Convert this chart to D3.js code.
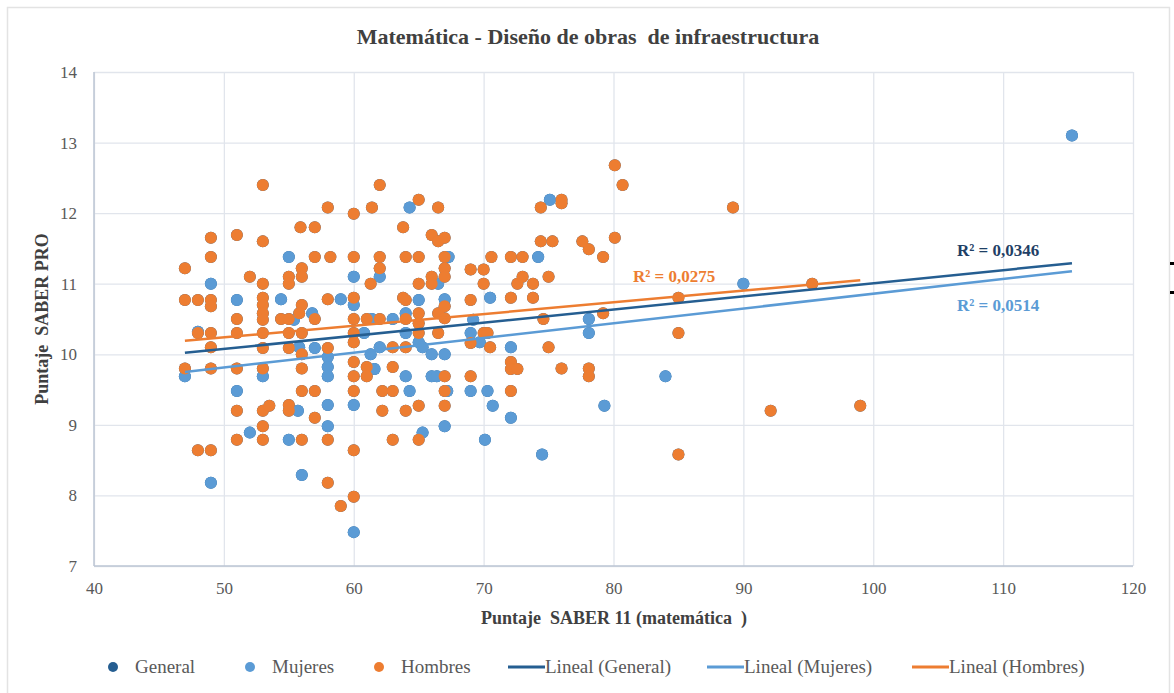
<!DOCTYPE html>
<html lang="es">
<meta charset="utf-8">
<head>
    <title>Matemática - Diseño de obras de infraestructura</title>
    <script src="https://cdn.jsdelivr.net/npm/d3@7/dist/d3.min.js"></script>
    <style>
        body {
            margin: 0;
            background: #fff;
            font-family: "Liberation Serif", "Times New Roman", serif;
        }
        .grid line { stroke: #e1e5ec; stroke-width: 1.3px; }
        .tick text { fill: #595959; font-size: 17px; }
    </style>
</head>
<body>
<script>
    // Mujeres: [Puntaje SABER 11, Puntaje SABER PRO]
    const mujeres = [
        [47, 9.69], [48, 10.32], [49, 11.0], [49, 8.18], [51, 10.77], [51, 9.48], [52, 8.89],
        [53, 9.69], [54.4, 10.78], [55, 11.38], [55.4, 10.49], [55, 8.79], [55.7, 9.2],
        [55.8, 10.1], [56, 8.29], [56.8, 10.58], [57, 10.09], [58, 9.96], [58, 9.82],
        [58, 9.69], [58, 9.28], [58, 8.98], [59, 10.78], [60, 11.1], [60, 10.7], [60.8, 10.3],
        [60, 9.28], [60, 7.48], [61.3, 10.0], [61.6, 9.79], [61.4, 10.5], [62, 11.1], [62, 10.1],
        [63, 10.5], [64, 10.58], [64, 10.3], [64, 9.69], [64.3, 12.08], [64.3, 9.48], [65, 10.77],
        [65, 10.17], [65.3, 10.1], [65.3, 8.89], [66, 10.0], [66, 9.69], [66.4, 9.69], [66.5, 11.0],
        [67.3, 11.38], [67, 10.78], [67, 10.0], [67, 8.98], [67.2, 9.48], [69.2, 10.49], [69, 10.3],
        [69, 9.48], [69.7, 10.17], [70.5, 10.8], [70.3, 9.48], [70.7, 9.27], [70.1, 8.79],
        [72.1, 10.1], [72.1, 9.1], [74.2, 11.38], [74.5, 8.58], [75.1, 12.19], [78.1, 10.5],
        [78.1, 10.3], [79.3, 9.27], [84, 9.69], [90, 11.0], [115.3, 13.1]
    ];

    // Hombres: [Puntaje SABER 11, Puntaje SABER PRO]
    const hombres = [
        [47, 11.22], [47, 10.77], [47, 9.8], [48, 10.77], [48, 10.3], [48, 8.64],
        [49, 11.65], [49, 11.38], [49, 10.77], [49, 10.68], [49, 10.3], [49, 10.1], [49, 9.8], [49, 8.64],
        [51, 11.69], [51, 10.5], [51, 10.3], [51, 9.8], [51, 9.2], [51, 8.79], [52, 11.1],
        [53, 12.4], [53, 11.6], [53, 11.0], [53, 10.8], [53, 10.7], [53, 10.58], [53, 10.49],
        [53, 10.3], [53, 10.09], [53, 9.8], [53, 9.2], [53, 8.98], [53, 8.79], [53.5, 9.27],
        [54.4, 10.5], [55, 11.1], [55, 11.0], [55, 10.5], [55, 10.3], [55, 10.09], [55, 9.28], [55, 9.2],
        [55.9, 11.8], [56, 11.22], [56, 11.1], [56, 10.7], [55.8, 10.58], [56, 10.3], [56, 10.0],
        [56, 9.8], [56, 9.48], [56, 8.79], [57, 11.8], [57, 11.38], [57, 10.5], [57, 9.48], [57, 9.1],
        [58, 12.08], [58.2, 11.38], [58, 10.78], [58, 10.09], [58, 8.79], [58, 8.18], [59, 7.85],
        [60, 11.99], [60, 11.38], [60, 10.8], [60, 10.5], [60, 10.3], [60, 10.17], [60, 9.89],
        [60, 9.69], [60, 9.48], [60, 8.64], [60, 7.98], [61, 9.82], [61, 9.69], [61, 10.5],
        [61.3, 11.0], [61.4, 12.08], [62, 12.4], [62, 11.38], [62, 11.22], [62, 10.5], [62.2, 9.48],
        [62.2, 9.2], [63, 10.1], [63, 9.82], [63, 9.48], [63, 8.79], [63.8, 11.8], [63.8, 10.8],
        [64, 11.38], [64, 10.77], [64, 10.5], [64, 10.1], [64, 9.2], [65, 12.19], [65, 11.38],
        [65, 11.0], [65, 10.58], [65, 10.44], [65, 10.3], [65, 9.27], [65, 8.79], [66, 11.69],
        [66, 11.1], [66, 11.0], [66.5, 12.08], [66.5, 11.6], [66.5, 10.58], [66.5, 10.3],
        [67, 11.65], [67, 11.38], [67, 11.22], [67, 11.1], [67, 10.68], [67, 10.51], [67, 9.69],
        [67, 9.48], [67, 9.27], [69, 11.2], [69, 10.77], [69, 10.16], [69, 9.69], [70, 11.2],
        [70, 11.0], [70, 10.3], [70.3, 10.3], [70.5, 10.1], [70.6, 11.38], [72.1, 11.38], [72.1, 10.8],
        [72.1, 9.89], [72.1, 9.79], [72.1, 9.48], [72.6, 11.0], [72.6, 9.79], [73, 11.38], [73, 11.1],
        [73.8, 11.0], [73.8, 10.8], [74.4, 12.08], [74.4, 11.6], [74.6, 10.5], [75, 11.1], [75, 10.1],
        [75.3, 11.6], [76, 12.19], [76, 12.14], [76, 9.8], [77.6, 11.6], [78.1, 11.49], [78.1, 9.8],
        [78.1, 9.69], [79.2, 11.38], [79.2, 10.58], [80.1, 12.68], [80.1, 11.65], [80.7, 12.4],
        [85, 10.8], [85, 10.3], [85, 8.58], [89.2, 12.08], [92.1, 9.2], [95.3, 11.0], [99, 9.27]
    ];

    // General = todos los estudiantes
    const general = mujeres.concat(hombres);

    // Tendencias lineales: serie, pendiente, intercepto, R²
    const trendNames = ["General", "Mujeres", "Hombres"];
    const trendSlopes = [0.0186, 0.0209, 0.01654];
    const trendIntercepts = [9.146, 8.768, 9.413];
    const trendR2 = ["0,0346", "0,0514", "0,0275"];

    const xTicks = [40, 50, 60, 70, 80, 90, 100, 110, 120];
    const yTicks = [7, 8, 9, 10, 11, 12, 13, 14];

    const colors = { General: "#255e91", Mujeres: "#5b9bd5", Hombres: "#ed7d31" };

    const W = 1174, H = 693;
    const margin = { top: 72, right: 41, bottom: 127, left: 94 },
        width = W - margin.left - margin.right,
        height = H - margin.top - margin.bottom;

    const svg = d3.select("body").append("svg")
        .attr("width", W)
        .attr("height", H);

    // Chart border
    svg.append("rect")
        .attr("x", 7.5).attr("y", 7.5)
        .attr("width", 1162).attr("height", 690)
        .attr("fill", "none")
        .attr("stroke", "#e3e3e3")
        .attr("stroke-width", 1.5);

    // small handle marks on the right edge
    svg.selectAll(".handle")
        .data([262, 291])
        .enter().append("rect")
        .attr("x", 1170).attr("y", d => d)
        .attr("width", 4).attr("height", 3)
        .attr("fill", "#000");

    const g = svg.append("g")
        .attr("transform", `translate(${margin.left},${margin.top})`);

    const x = d3.scaleLinear().domain([40, 120]).range([0, width]);
    const y = d3.scaleLinear().domain([7, 14]).range([height, 0]);

    // Gridlines
    g.append("g").attr("class", "grid")
        .call(d3.axisBottom(x).tickValues(xTicks).tickSize(height).tickFormat(""))
        .call(s => s.select(".domain").remove());
    g.append("g").attr("class", "grid")
        .call(d3.axisLeft(y).tickValues(yTicks).tickSize(-width).tickFormat(""))
        .call(s => s.select(".domain").remove());

    // Axis lines
    g.append("line")
        .attr("x1", 0).attr("x2", 0).attr("y1", 0).attr("y2", height)
        .attr("stroke", "#bcc6d4").attr("stroke-width", 1.5);
    g.append("line")
        .attr("x1", 0).attr("x2", width).attr("y1", height).attr("y2", height)
        .attr("stroke", "#bcc6d4").attr("stroke-width", 1.5);

    // Tick labels
    g.append("g")
        .attr("transform", `translate(0,${height})`)
        .call(d3.axisBottom(x).tickValues(xTicks).tickFormat(d3.format("d")).tickSize(0).tickPadding(16))
        .call(s => s.select(".domain").remove())
        .selectAll("text").attr("font-family", "Liberation Serif");
    g.append("g")
        .call(d3.axisLeft(y).tickValues(yTicks).tickFormat(d3.format("d")).tickSize(0).tickPadding(17))
        .call(s => s.select(".domain").remove())
        .selectAll("text").attr("font-family", "Liberation Serif");

    // Points
    const series = [["General", general], ["Mujeres", mujeres], ["Hombres", hombres]];
    series.forEach(([name, pts]) => {
        g.append("g").selectAll("circle")
            .data(pts)
            .enter().append("circle")
            .attr("cx", d => x(d[0]))
            .attr("cy", d => y(d[1]))
            .attr("r", 6)
            .attr("fill", colors[name]);
    });

    // Trend lines
    const extents = [d3.extent(general, d => d[0]), d3.extent(mujeres, d => d[0]), d3.extent(hombres, d => d[0])];
    trendNames.forEach((name, i) => {
        const [x0, x1] = extents[i];
        g.append("line")
            .attr("x1", x(x0)).attr("y1", y(trendIntercepts[i] + trendSlopes[i] * x0))
            .attr("x2", x(x1)).attr("y2", y(trendIntercepts[i] + trendSlopes[i] * x1))
            .attr("stroke", colors[name])
            .attr("stroke-width", 2.5);
    });

    // R² labels
    const r2Pos = [[957, 256], [957, 311], [633, 282]];
    trendNames.forEach((name, i) => {
        svg.append("text")
            .attr("x", r2Pos[i][0]).attr("y", r2Pos[i][1])
            .attr("font-size", 17)
            .attr("font-weight", "bold")
            .attr("fill", name === "General" ? "#1f3f66" : colors[name])
            .text("R² = " + trendR2[i]);
    });

    // Title
    svg.append("text")
        .attr("x", 588).attr("y", 44)
        .attr("text-anchor", "middle")
        .attr("font-size", 22)
        .attr("font-weight", "bold")
        .attr("fill", "#404040")
        .style("white-space", "pre")
        .text("Matemática - Diseño de obras  de infraestructura");

    // Axis titles
    svg.append("text")
        .attr("x", 614).attr("y", 624)
        .attr("text-anchor", "middle")
        .attr("font-size", 18)
        .attr("font-weight", "bold")
        .attr("fill", "#404040")
        .style("white-space", "pre")
        .text("Puntaje  SABER 11 (matemática  )");
    svg.append("text")
        .attr("transform", "translate(48,319) rotate(-90)")
        .attr("text-anchor", "middle")
        .attr("font-size", 18)
        .attr("font-weight", "bold")
        .attr("fill", "#404040")
        .style("white-space", "pre")
        .text("Puntaje  SABER PRO");

    // Legend
    const legendItems = [
        { label: "General", type: "dot", color: colors.General, x: 113 },
        { label: "Mujeres", type: "dot", color: colors.Mujeres, x: 250 },
        { label: "Hombres", type: "dot", color: colors.Hombres, x: 379 },
        { label: "Lineal (General)", type: "line", color: colors.General, x: 508 },
        { label: "Lineal (Mujeres)", type: "line", color: colors.Mujeres, x: 707 },
        { label: "Lineal (Hombres)", type: "line", color: colors.Hombres, x: 912 }
    ];
    const legend = svg.append("g").attr("transform", "translate(0,667)");
    legendItems.forEach(it => {
        if (it.type === "dot") {
            legend.append("circle").attr("cx", it.x).attr("cy", 0).attr("r", 5).attr("fill", it.color);
            legend.append("text").attr("x", it.x + 22).attr("y", 6)
                .attr("font-size", 19).attr("fill", "#595959").text(it.label);
        } else {
            legend.append("line").attr("x1", it.x).attr("x2", it.x + 37)
                .attr("y1", 0).attr("y2", 0)
                .attr("stroke", it.color).attr("stroke-width", 3);
            legend.append("text").attr("x", it.x + 37).attr("y", 6)
                .attr("font-size", 19).attr("fill", "#595959").text(it.label);
        }
    });
</script>
</body>
</html>
